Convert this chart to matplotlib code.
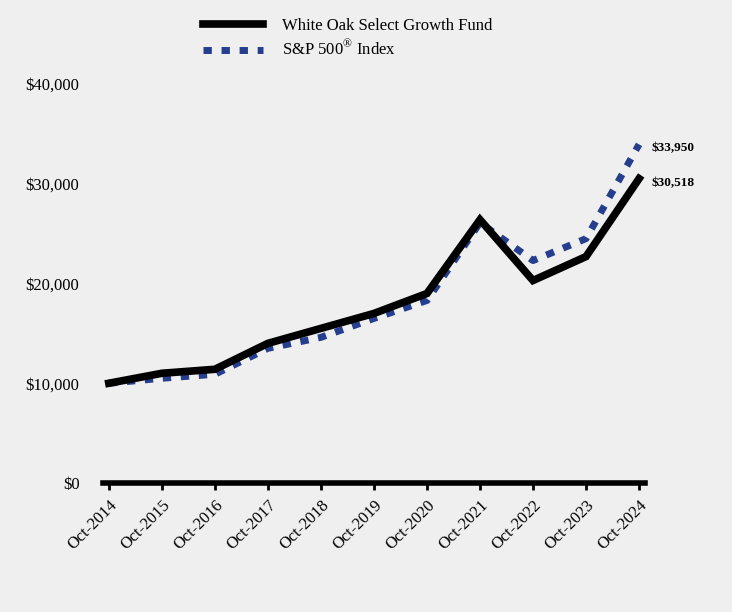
import matplotlib.pyplot as plt
from matplotlib.ticker import FuncFormatter

years = ['Oct-2014', 'Oct-2015', 'Oct-2016', 'Oct-2017', 'Oct-2018', 'Oct-2019',
         'Oct-2020', 'Oct-2021', 'Oct-2022', 'Oct-2023', 'Oct-2024']
fund = [10000, 11000, 11400, 14000, 15500, 17000, 19000, 26400, 20300, 22700, 30518]
sp500 = [10000, 10500, 10900, 13500, 14600, 16500, 18300, 26100, 22300, 24500, 33950]

bg = '#efefef'
plt.rcParams['font.family'] = ['Liberation Serif', 'DejaVu Serif']
plt.rcParams['mathtext.fontset'] = 'custom'
plt.rcParams['mathtext.rm'] = 'Liberation Serif'

fig = plt.figure(figsize=(7.32, 6.12), dpi=100, facecolor=bg)
ax = fig.add_axes([0.1407, 0.2108, 0.7403, 0.6519], facecolor=bg)

x = list(range(len(years)))
ax.plot(x, fund, color='black', lw=5.5, solid_joinstyle='miter',
        label='White Oak Select Growth Fund', zorder=3)
ax.plot(x, sp500, color='#253f8e', lw=5, linestyle=(0, (1.2, 1.4)),
        dash_capstyle='butt', label='S&P 500$^{\\mathrm{®}}$ Index', zorder=2)

ax.set_xlim(-0.11, 10.11)
ax.set_ylim(0, 40000)
ax.set_yticks([0, 10000, 20000, 30000, 40000])
ax.yaxis.set_major_formatter(FuncFormatter(lambda v, p: '${:,.0f}'.format(v)))
ax.set_xticks(x)
ax.set_xticklabels(years, rotation=45, ha='right', rotation_mode='anchor')

for s in ['top', 'right', 'left']:
    ax.spines[s].set_visible(False)
ax.spines['bottom'].set_linewidth(4)
ax.tick_params(axis='y', length=0, pad=17, labelsize=12)
ax.tick_params(axis='x', length=5, width=2, pad=5, labelsize=12)

ax.annotate('${:,.0f}'.format(sp500[-1]), (x[-1], sp500[-1]), xytext=(9, -3),
            textcoords='offset points', fontsize=9.5, fontweight='bold', va='center')
ax.annotate('${:,.0f}'.format(fund[-1]), (x[-1], fund[-1]), xytext=(9, -3),
            textcoords='offset points', fontsize=9.5, fontweight='bold', va='center')

fig.legend(loc='upper center', bbox_to_anchor=(0.475, 0.995), frameon=False,
           fontsize=12, handlelength=3.6, handletextpad=1.1, labelspacing=0.35)

fig.savefig('out.png', dpi=100, facecolor=bg)
